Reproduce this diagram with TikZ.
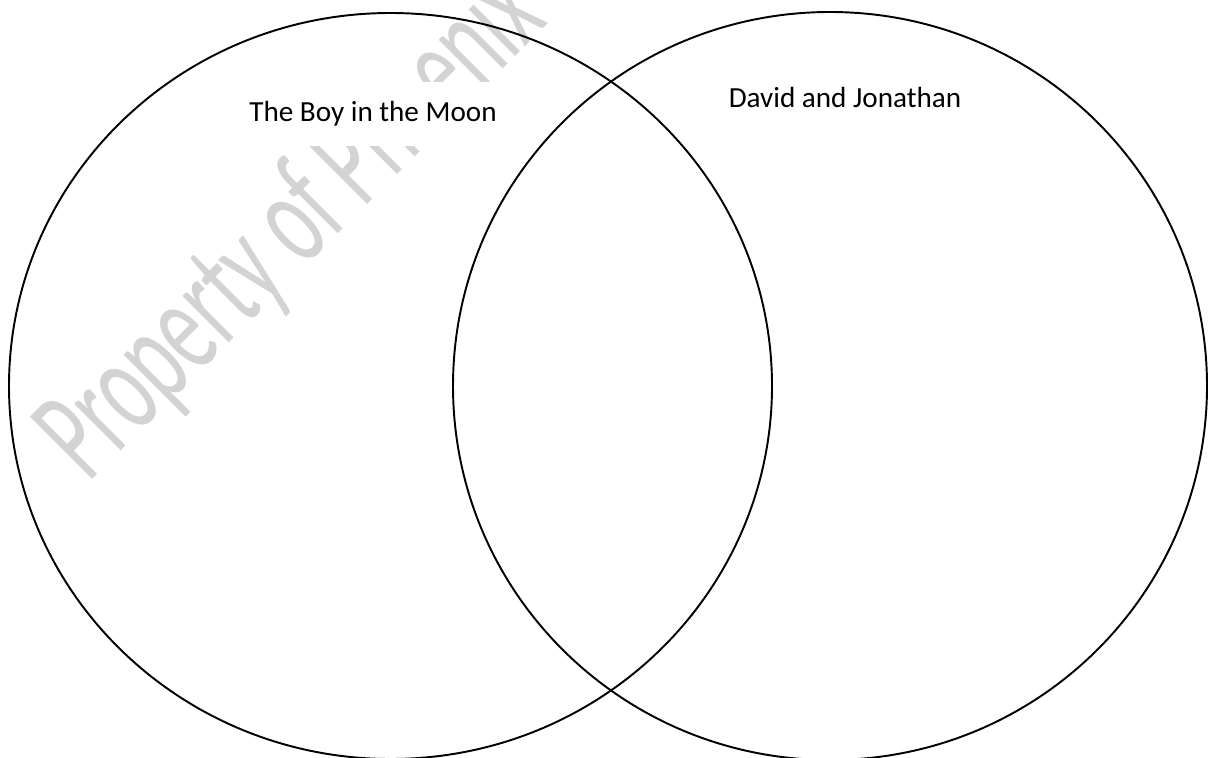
\documentclass[tikz,border=0pt]{standalone}
\usepackage{fontspec}
\setmainfont{Carlito}
\usepackage{tikz}
\definecolor{markgray}{RGB}{211,211,211}
\tikzset{
	ring/.style={line width=1.1pt},
	title/.style={font=\fontsize{16.6}{20}\selectfont, fill=white, minimum height=1.3cm, inner xsep=0.5cm}
}

\begin{document}
\begin{tikzpicture}[x=0.02cm,y=-0.02cm]
	\clip (0,0) rectangle (1209,757);
	\node[rotate=45, yscale=1.7, text=markgray, font=\fontsize{46}{48}\selectfont, anchor=base west, inner sep=0pt] (mark) at (88,484) {Property of Phoenix};
	\draw[ring] (390.5,386) ellipse [x radius=381.5, y radius=373];
	\draw[ring] (830,386) ellipse [x radius=377, y radius=374];
	\node[title] (boy) at (373,114) {The Boy in the Moon};
	\node[title] (david) at (845,97) {David and Jonathan};
\end{tikzpicture}
\end{document}
